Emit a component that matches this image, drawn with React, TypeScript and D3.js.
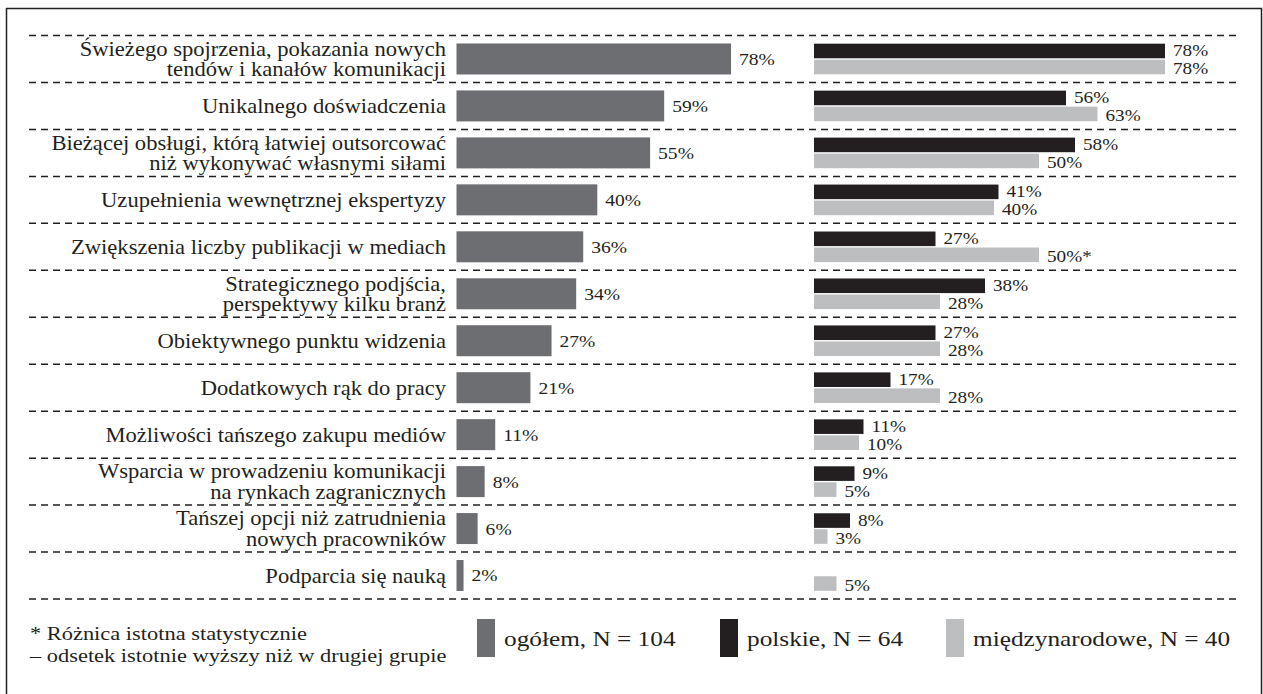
import React from "react";
import * as d3 from "d3";

const categories: string[][] = [
  ["Świeżego spojrzenia, pokazania nowych", "tendów i kanałów komunikacji"],
  ["Unikalnego doświadczenia"],
  ["Bieżącej obsługi, którą łatwiej outsorcować", "niż wykonywać własnymi siłami"],
  ["Uzupełnienia wewnętrznej ekspertyzy"],
  ["Zwiększenia liczby publikacji w mediach"],
  ["Strategicznego podjścia,", "perspektywy kilku branż"],
  ["Obiektywnego punktu widzenia"],
  ["Dodatkowych rąk do pracy"],
  ["Możliwości tańszego zakupu mediów"],
  ["Wsparcia w prowadzeniu komunikacji", "na rynkach zagranicznych"],
  ["Tańszej opcji niż zatrudnienia", "nowych pracowników"],
  ["Podparcia się nauką"],
];

const ogolem: number[] = [78, 59, 55, 40, 36, 34, 27, 21, 11, 8, 6, 2];
const polskie: (number | null)[] = [78, 56, 58, 41, 27, 38, 27, 17, 11, 9, 8, null];
const miedzynarodowe: number[] = [78, 63, 50, 40, 50, 28, 28, 28, 10, 5, 3, 5];
const miedzySignificant: boolean[] = [false, false, false, false, true, false, false, false, false, false, false, false];

const legendItems = [
  { label: "ogółem, N = 104", key: "ogolem" },
  { label: "polskie, N = 64", key: "polskie" },
  { label: "międzynarodowe, N = 40", key: "miedzy" },
];
const footnote = ["* Różnica istotna statystycznie", "– odsetek istotnie wyższy niż w drugiej grupie"];

const COLORS: Record<string, string> = {
  ogolem: "#6d6e71",
  polskie: "#231f20",
  miedzy: "#bcbec0",
};
const TEXT = "#231f20";
const FONT = "'Liberation Serif', 'Times New Roman', 'DejaVu Serif', serif";

function T(props: {
  x: number;
  y: number;
  size: number;
  sx?: number;
  anchor?: "start" | "end";
  children: React.ReactNode;
}) {
  const { x, y, size, sx = 1, anchor = "start", children } = props;
  return (
    <text
      transform={`translate(${x},${y}) scale(${sx},1)`}
      textAnchor={anchor}
      dy="0.35em"
      fill={TEXT}
      style={{ fontFamily: FONT, fontSize: size }}
    >
      {children}
    </text>
  );
}

export default function App() {
  const W = 1263;
  const H = 694;
  const idx = categories.map((_, i) => String(i));
  const y = d3.scaleBand<string>().domain(idx).range([35.5, 599]).paddingInner(0);
  const step = y.step();
  const xL = d3.scaleLinear().domain([0, 100]).range([0, 352]);
  const xR = d3.scaleLinear().domain([0, 100]).range([0, 450]);
  const leftX0 = 456.5;
  const rightX0 = 814;
  const labelX = 446;
  const barH = 31;
  const pairH = 14.6;
  const pairGap = 1.4;

  const gridYs = d3.range(categories.length + 1).map((i) => 35.5 + i * step);

  return (
    <svg
      width={W}
      height={H}
      style={{ position: "absolute", left: 0, top: 0, background: "#fff", fontFamily: FONT }}
    >
      <rect x={0} y={0} width={W} height={H} fill="#fff" />
      <rect x={6.5} y={8.5} width={1255} height={720} fill="none" stroke={TEXT} strokeWidth={1.5} />
      {gridYs.map((gy, i) => (
        <line key={i} x1={29} x2={1240} y1={gy} y2={gy} stroke={TEXT} strokeWidth={1.5} strokeDasharray="7,5" />
      ))}
      {categories.map((lines, i) => {
        const cy = (y(String(i)) as number) + step / 2;
        const vO = ogolem[i];
        const vP = polskie[i];
        const vM = miedzynarodowe[i];
        const blackY = cy - pairGap / 2 - pairH;
        const lightY = cy + pairGap / 2;
        return (
          <g key={i}>
            {lines.map((ln, j) => (
              <T key={j} x={labelX} y={cy + (j - (lines.length - 1) / 2) * 20.5} size={20} sx={1.13} anchor="end">
                {ln}
              </T>
            ))}
            <rect x={leftX0} y={cy - barH / 2} width={xL(vO)} height={barH} fill={COLORS.ogolem} />
            <T x={leftX0 + xL(vO) + 8} y={cy} size={17} sx={1.15}>
              {vO}%
            </T>
            {vP !== null && (
              <g>
                <rect x={rightX0} y={blackY} width={xR(vP)} height={pairH} fill={COLORS.polskie} />
                <T x={rightX0 + xR(vP) + 8} y={blackY + pairH / 2 - 0.5} size={16} sx={1.2}>
                  {vP}%
                </T>
              </g>
            )}
            <rect x={rightX0} y={lightY} width={xR(vM)} height={pairH} fill={COLORS.miedzy} />
            <T x={rightX0 + xR(vM) + 8} y={lightY + pairH / 2 + 1.5} size={16} sx={1.2}>
              {vM}%{miedzySignificant[i] ? "*" : ""}
            </T>
          </g>
        );
      })}
      {footnote.map((t, i) => (
        <T key={i} x={30} y={633 + i * 22} size={19.5} sx={1.15}>
          {t}
        </T>
      ))}
      {legendItems.map((it, i) => {
        const sx = [477, 720, 946][i];
        return (
          <g key={it.key}>
            <rect x={sx} y={619} width={18} height={38} fill={COLORS[it.key]} />
            <T x={sx + 27} y={638} size={22} sx={1.15}>
              {it.label}
            </T>
          </g>
        );
      })}
    </svg>
  );
}
